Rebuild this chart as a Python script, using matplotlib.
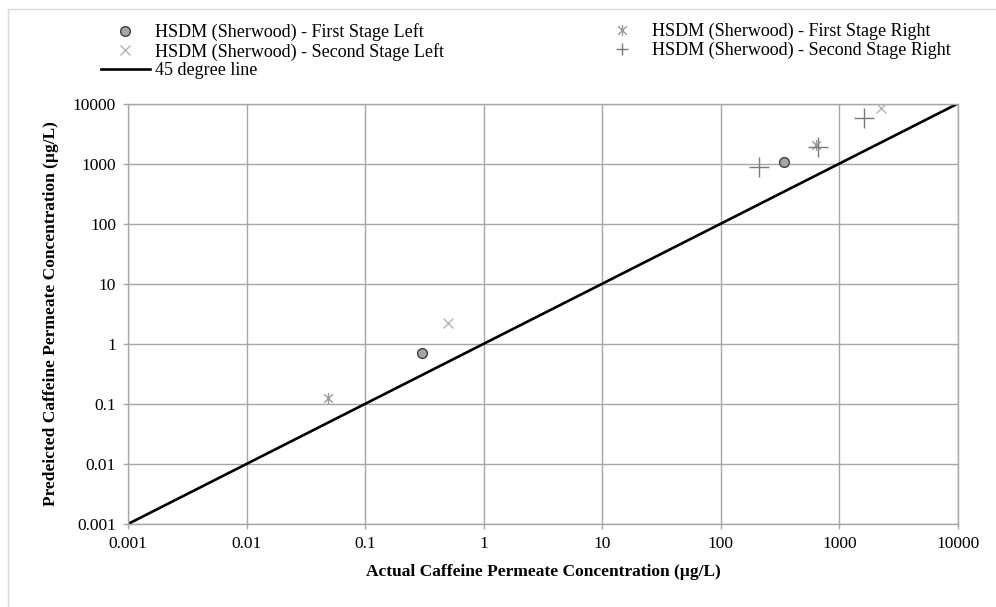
import matplotlib
matplotlib.use("Agg")
import matplotlib.pyplot as plt
from matplotlib.patches import Rectangle
from matplotlib.lines import Line2D
from matplotlib.path import Path

plt.rcParams['font.family'] = ['Liberation Serif', 'DejaVu Serif']

# permeate concentrations, actual (x) vs predicted (y), ug/L
fsl_actual = [0.30, 340]
fsl_pred = [0.70, 1050]
fsr_actual = [0.049, 640]
fsr_pred = [0.126, 2040]
ssl_actual = [0.50, 2260]
ssl_pred = [2.2, 8300]
ssr_actual = [210, 660, 1600]
ssr_pred = [890, 1870, 5800]
line_ends = [0.001, 10000]
decades = [0.001, 0.01, 0.1, 1, 10, 100, 1000, 10000]
decade_labels = ['0.001', '0.01', '0.1', '1', '10', '100', '1000', '10000']

# Excel-style star: an x with a vertical bar through it
star = Path([(-1, -1), (1, 1), (-1, 1), (1, -1), (0, -1.3), (0, 1.3)],
            [Path.MOVETO, Path.LINETO, Path.MOVETO, Path.LINETO, Path.MOVETO, Path.LINETO])

fig = plt.figure(figsize=(9.96, 6.07), dpi=100)
fig.patches.append(Rectangle((8 / 996, -0.1), 1.2, 1 - 9 / 607 + 0.1,
                             transform=fig.transFigure, fill=False,
                             edgecolor='#d9d9d9', lw=1))
ax = fig.add_axes([128 / 996, 83 / 607, 830 / 996, 420.5 / 607])

grid_c = '#a6a6a6'
styles = {
    'fsl': dict(marker='o', mfc='#a6a6a6', mec='#404040', mew=1),
    'fsr': dict(marker=star, color='#9a9a9a', mew=1),
    'ssl': dict(marker='x', color='#b5b5b5', mew=1),
    'ssr': dict(marker='+', color='#7a7a7a', mew=1),
}
ax.plot(line_ends, line_ends, color='black', lw=1.9, zorder=2)
ax.plot(fsl_actual, fsl_pred, ls='none', ms=7, zorder=3, **styles['fsl'])
ax.plot(fsr_actual, fsr_pred, ls='none', ms=8, zorder=3, **styles['fsr'])
ax.plot(ssl_actual, ssl_pred, ls='none', ms=7, zorder=3, **styles['ssl'])
ax.plot(ssr_actual, ssr_pred, ls='none', ms=14, zorder=3, **styles['ssr'])

ax.set_xscale('log')
ax.set_yscale('log')
ax.set_xlim(decades[0], decades[-1])
ax.set_ylim(decades[0], decades[-1])
ax.set_xticks(decades, decade_labels)
ax.set_yticks(decades, decade_labels)
ax.minorticks_off()
ax.grid(True, color=grid_c, lw=1)
ax.set_axisbelow(True)
for s in ax.spines.values():
    s.set_color(grid_c)
    s.set_linewidth(1)
ax.tick_params(axis='both', direction='out', length=3.6, width=1, color=grid_c,
               labelsize=12.5, labelcolor='black', pad=5)

ax.set_xlabel('Actual Caffeine Permeate Concentration (\u00b5g/L)', fontsize=12.5,
              fontweight='bold', va='center')
ax.set_ylabel('Predeicted Caffeine Permeate Concentration (\u00b5g/L)', fontsize=12.5,
              fontweight='bold', va='center')
ax.xaxis.set_label_coords(0.5, (524 - 572) / 420.5)
ax.yaxis.set_label_coords((51 - 128) / 830, 0.5)

# legend keys all drawn at one marker size
def key(name, ms=7):
    return Line2D([], [], ls='none', ms=ms, **styles[name])

line_key = Line2D([], [], color='black', lw=1.9)
leg_kw = dict(loc='upper left', frameon=False, fontsize=13, handlelength=2.7,
              handletextpad=0.3, labelspacing=0.1, borderpad=0, borderaxespad=0)
fig.legend([key('fsl'), key('ssl'), line_key],
           ['HSDM (Sherwood) - First Stage Left', 'HSDM (Sherwood) - Second Stage Left',
            '45 degree line'],
           bbox_to_anchor=(101 / 996, 1 - 23 / 607), **leg_kw)
fig.legend([key('fsr', 8), key('ssr', 8)],
           ['HSDM (Sherwood) - First Stage Right', 'HSDM (Sherwood) - Second Stage Right'],
           bbox_to_anchor=(598 / 996, 1 - 23 / 607), **leg_kw)

fig.savefig('out.png', dpi=100)
